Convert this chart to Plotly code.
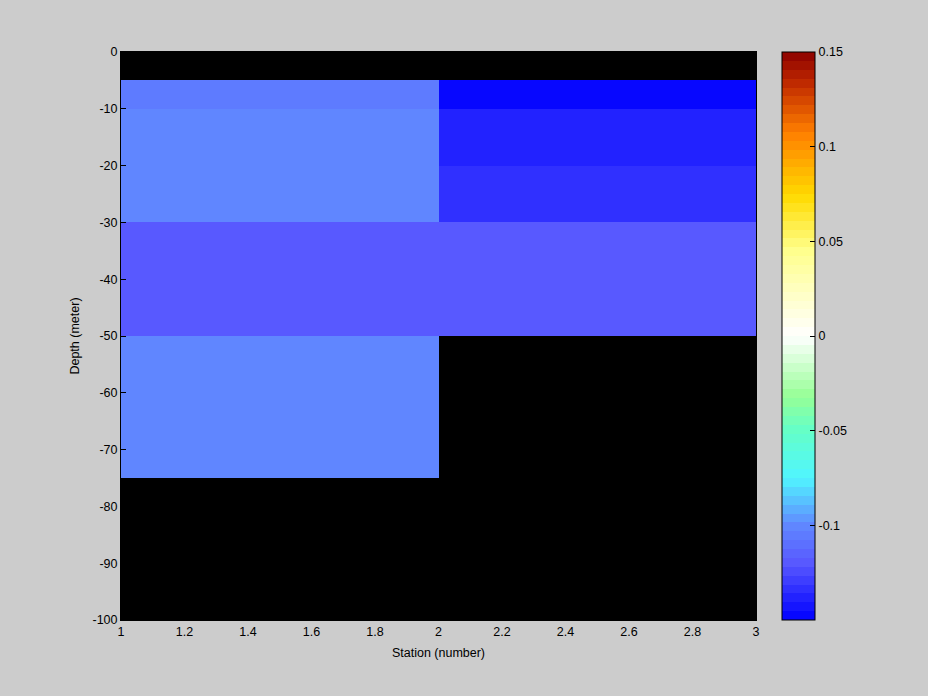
import numpy as np
import plotly.graph_objects as go

# Data (cell edges and cell values, NaN = no data)
station_edges = [1, 2, 3]
depth_edges = [-100, -75, -50, -30, -20, -10, -5, 0]
# values per depth layer (bottom to top), for station 1-2 and 2-3
station1_vals = [np.nan, -0.100, -0.118, -0.100, -0.100, -0.105, np.nan]
station2_vals = [np.nan, np.nan, -0.118, -0.133, -0.140, -0.146, np.nan]

x_ticks = [1, 1.2, 1.4, 1.6, 1.8, 2, 2.2, 2.4, 2.6, 2.8, 3]
x_ticklabels = ["1", "1.2", "1.4", "1.6", "1.8", "2", "2.2", "2.4", "2.6", "2.8", "3"]
y_ticks = [0, -10, -20, -30, -40, -50, -60, -70, -80, -90, -100]
y_ticklabels = ["0", "-10", "-20", "-30", "-40", "-50", "-60", "-70", "-80", "-90", "-100"]
cb_ticks = [0.15, 0.1, 0.05, 0, -0.05, -0.1]
cb_ticklabels = ["0.15", "0.1", "0.05", "0", "-0.05", "-0.1"]
zmin, zmax = -0.15, 0.15

# Colormap anchors (normalized position, rgb)
anchors = [
    (0.000, (0, 0, 255)),
    (0.100, (88, 88, 255)),
    (0.167, (96, 136, 255)),
    (0.250, (80, 245, 255)),
    (0.333, (100, 255, 200)),
    (0.393, (150, 255, 150)),
    (0.500, (255, 255, 255)),
    (0.650, (255, 255, 140)),
    (0.747, (255, 218, 0)),
    (0.857, (255, 128, 0)),
    (0.947, (190, 40, 0)),
    (1.000, (140, 0, 0)),
]
pos = [a[0] for a in anchors]
cols = np.array([a[1] for a in anchors], dtype=float)
N = 64
colorscale = []
for i in range(N):
    t = (i + 0.5) / N
    rgb = [int(round(np.interp(t, pos, cols[:, k]))) for k in range(3)]
    c = f"rgb({rgb[0]},{rgb[1]},{rgb[2]})"
    colorscale.append([i / N, c])
    colorscale.append([(i + 1) / N, c])

z = [[a, b] for a, b in zip(station1_vals, station2_vals)]

font = dict(family="Liberation Sans, Arial, sans-serif", size=12.5, color="black")

fig = go.Figure(go.Heatmap(
    x=station_edges, y=depth_edges, z=z,
    zmin=zmin, zmax=zmax, colorscale=colorscale,
    hoverongaps=False,
    colorbar=dict(
        x=(782 - 121) / 635, xanchor="left", xpad=0,
        y=0.5, yanchor="middle", len=1, lenmode="fraction", ypad=0,
        thickness=33, thicknessmode="pixels",
        outlinewidth=1, outlinecolor="black",
        tickvals=cb_ticks, ticktext=cb_ticklabels,
        ticks="inside", ticklen=5, tickcolor="black",
        tickfont=font,
    ),
))

fig.update_layout(
    width=928, height=696,
    margin=dict(l=121, r=172, t=52, b=76),
    paper_bgcolor="#cccccc", plot_bgcolor="black",
    font=font,
    xaxis=dict(
        range=[1, 3], tickvals=x_ticks, ticktext=x_ticklabels,
        ticks="inside", ticklen=5, tickcolor="black",
        showgrid=False, zeroline=False,
        showline=True, linecolor="black", linewidth=1, mirror=True,
        title=dict(text="Station (number)", font=font, standoff=10),
    ),
    yaxis=dict(
        range=[-100, 0], tickvals=y_ticks, ticktext=y_ticklabels,
        ticks="inside", ticklen=5, tickcolor="black",
        showgrid=False, zeroline=False,
        showline=True, linecolor="black", linewidth=1, mirror=True,
        title=dict(text="Depth (meter)", font=font, standoff=10),
    ),
)

fig.write_html(
    "out.html",
    config={"displayModeBar": False},
    post_script="document.body.style.margin='0';document.body.style.background='#cccccc';",
)
